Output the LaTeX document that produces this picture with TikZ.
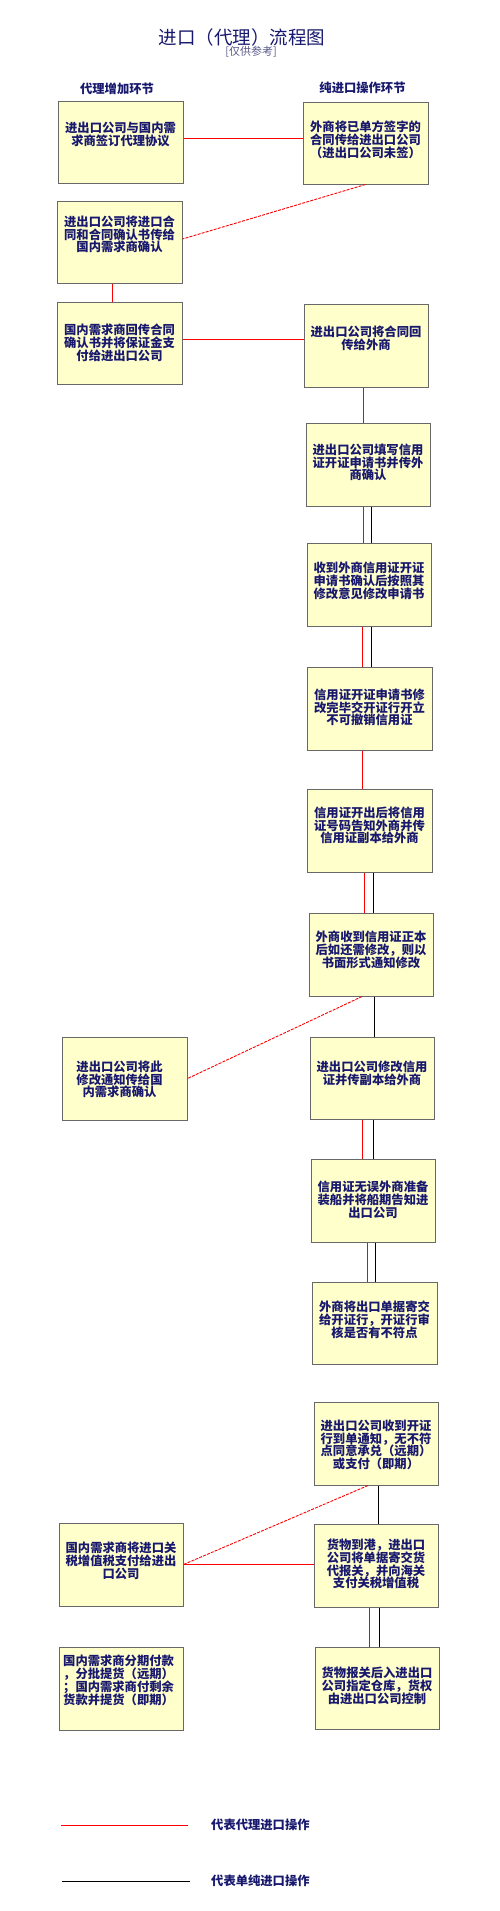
\documentclass[tikz,border=0pt]{standalone}
\usepackage{fontspec}
\newfontfamily\cjk{Noto Sans CJK SC}
\definecolor{navytext}{RGB}{24,24,110}
\definecolor{subtext}{RGB}{90,90,140}
\definecolor{boxfill}{RGB}{255,255,204}
\definecolor{boxedge}{RGB}{104,104,104}
\tikzset{
  box/.style={draw=boxedge, fill=boxfill, line width=1pt, inner sep=0pt},
  btxt/.style={anchor=north, align=center, text=navytext, inner sep=0pt,
    font=\cjk\bfseries\fontsize{12.3}{12.6}\selectfont},
  htxt/.style={text=navytext, inner sep=0pt, font=\cjk\bfseries\fontsize{12.3}{12.6}\selectfont},
  redl/.style={draw=red, line width=1pt},
  blkl/.style={draw=black, line width=1pt},
  redd/.style={draw=red, line width=0.9pt, dash pattern=on 3pt off 1.2pt},
}
\newcommand\bx[7]{%
  \node[box, minimum width={#4-#2}, minimum height={#5-#3}] (#1) at ({(#2+#4)/2},{(#3+#5)/2}) {};
  \node[btxt] (#1t) at ({(#2+#4)/2},{#6-6}) {#7};}
\begin{document}
\begin{tikzpicture}[x=1pt,y=-1pt]
\useasboundingbox[fill=white] (0,0) rectangle (500,1911);
% titles
\node[text=navytext, inner sep=0pt, font=\cjk\fontsize{18.5}{20}\selectfont] (title) at (242,37) {进口（代理）流程图};
\node[text=subtext, inner sep=0pt, font=\cjk\fontsize{11}{12}\selectfont] (sub) at (251,52) {[仅供参考]};
\node[htxt] (hl) at (117,89) {代理增加环节};
\node[htxt] (hr) at (362.5,88) {纯进口操作环节};
% boxes
\bx{L1}{58}{101}{183}{183}{128}{进出口公司与国内需\\求商签订代理协议}
\bx{R1}{303}{102}{428}{184}{127}{外商将已单方签字的\\合同传给进出口公司\\（进出口公司未签）}
\bx{L2}{57}{201}{182}{283}{222}{进出口公司将进口合\\同和合同确认书传给\\国内需求商确认}
\bx{L3}{57}{302}{182}{384}{330}{国内需求商回传合同\\确认书并将保证金支\\付给进出口公司}
\bx{R2}{304}{304}{428}{387}{332}{进出口公司将合同回\\传给外商}
\bx{R3}{306}{423}{430}{506}{450}{进出口公司填写信用\\证开证申请书并传外\\商确认}
\bx{R4}{307}{543}{431}{626}{568}{收到外商信用证开证\\申请书确认后按照其\\修改意见修改申请书}
\bx{R5}{307}{667}{432}{750}{695}{信用证开证申请书修\\改完毕交开证行开立\\不可撤销信用证}
\bx{R6}{307}{789}{432}{872}{813}{信用证开出后将信用\\证号码告知外商并传\\信用证副本给外商}
\bx{R7}{309}{913}{433}{996}{937}{外商收到信用证正本\\后如还需修改，则以\\书面形式通知修改}
\node[box, minimum width=125, minimum height=83] (L4) at (124.5,1078.5) {};
\node[btxt] (L4t) at (119.5,1061) {进出口公司将此\\修改通知传给国\\内需求商确认};
\bx{R8}{310}{1037}{434}{1119}{1067}{进出口公司修改信用\\证并传副本给外商}
\bx{R9}{311}{1159}{435}{1242}{1187}{信用证无误外商准备\\装船并将船期告知进\\出口公司}
\bx{R10}{312}{1282}{437}{1364}{1307}{外商将出口单据寄交\\给开证行，开证行审\\核是否有不符点}
\bx{R11}{314}{1402}{438}{1485}{1426}{进出口公司收到开证\\行到单通知，无不符\\点同意承兑（远期）\\或支付（即期）}
\bx{L5}{59}{1523}{183}{1606}{1548}{国内需求商将进口关\\税增值税支付给进出\\口公司}
\bx{R12}{314}{1524}{438}{1607}{1545}{货物到港，进出口\\公司将单据寄交货\\代报关，并向海关\\支付关税增值税}
\bx{R13}{315}{1647}{439}{1729}{1673}{货物报关后入进出口\\公司指定仓库，货权\\由进出口公司控制}
\node[box, minimum width=124, minimum height=83] (L6) at (121,1688.5) {};
\node[btxt, anchor=north west, align=left] (L6t) at (63,1655) {国内需求商分期付款\\，分批提货（远期）\\；国内需求商付剩余\\货款并提货（即期）};
% connectors
\draw[redl] ([yshift=4pt]L1.east) -- ([yshift=4pt]L1.east -| R1.west);
\draw[redd] (R1.south) -- ([yshift=3pt]L2.east);
\draw[redl] ([xshift=-7pt]L2.south) -- ([xshift=-7pt]L2.south |- L3.north);
\draw[redl] ([yshift=4pt]L3.east) -- ([yshift=4pt]L3.east -| R2.west);
\draw[redl] ([xshift=-3pt]R2.south) -- ([xshift=-3pt]R2.south |- R3.north);
\draw[redl] ([xshift=-5pt]R3.south) -- ([xshift=-5pt]R3.south |- R4.north);
\draw[blkl] ([xshift=3pt]R3.south) -- ([xshift=3pt]R3.south |- R4.north);
\draw[redl] ([xshift=-7pt]R4.south) -- ([xshift=-7pt]R4.south |- R5.north);
\draw[blkl] ([xshift=2pt]R4.south) -- ([xshift=2pt]R4.south |- R5.north);
\draw[redl] ([xshift=-7.5pt]R5.south) -- ([xshift=-7.5pt]R5.south |- R6.north);
\draw[redl] ([xshift=-5.5pt]R6.south) -- ([xshift=-5.5pt]R6.south |- R7.north);
\draw[blkl] ([xshift=3.5pt]R6.south) -- ([xshift=3.5pt]R6.south |- R7.north);
\draw[blkl] ([xshift=3pt]R7.south) -- ([xshift=3pt]R7.south |- R8.north);
\draw[redd] ([xshift=-9pt]R7.south) -- (L4.east);
\draw[redl] ([xshift=-10pt]R8.south) -- ([xshift=-10pt]R8.south |- R9.north);
\draw[blkl] ([xshift=1pt]R8.south) -- ([xshift=1pt]R8.south |- R9.north);
\draw[redl] ([xshift=-6pt]R9.south) -- ([xshift=-6pt]R9.south |- R10.north);
\draw[blkl] ([xshift=2pt]R9.south) -- ([xshift=2pt]R9.south |- R10.north);
\draw[blkl] ([xshift=2pt]R11.south) -- ([xshift=2pt]R11.south |- R12.north);
\draw[redd] ([xshift=-8pt]R11.south) -- (L5.east);
\draw[redl] (L5.east) -- (L5.east -| R12.west);
\draw[redl] ([xshift=-7pt]R12.south) -- ([xshift=-7pt]R12.south |- R13.north);
\draw[blkl] ([xshift=3pt]R12.south) -- ([xshift=3pt]R12.south |- R13.north);
% legend
\coordinate (lr1) at (61,1825);
\coordinate (lr2) at (188,1825);
\coordinate (lb1) at (62,1881);
\coordinate (lb2) at (190,1881);
\draw[redl] (lr1) -- (lr2);
\draw[blkl] (lb1) -- (lb2);
\node[htxt, anchor=west] (legr) at (211,1825) {代表代理进口操作};
\node[htxt, anchor=west] (legb) at (211,1881) {代表单纯进口操作};
\end{tikzpicture}
\end{document}
